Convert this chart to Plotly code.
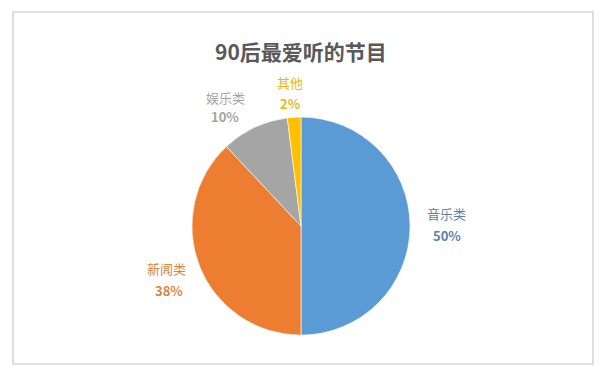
import plotly.graph_objects as go

categories = ["音乐类", "新闻类", "娱乐类", "其他"]
values = [50, 38, 10, 2]
slice_colors = ["#5B9BD5", "#ED7D31", "#A5A5A5", "#FFC000"]
label_colors = ["#5E80A8", "#D9853F", "#A3A3A3", "#E8B90C"]
title_text = "90后最爱听的节目"

W, H = 605, 380
# label centre positions in pixels (name line, percent line)
name_pos = [(446, 213), (166, 268), (225, 97), (290, 82)]
pct_pos = [(447, 235), (169, 290), (225, 117), (290, 103)]

FONT = "Noto Sans CJK SC"

fig = go.Figure()
fig.add_trace(go.Pie(
    labels=categories,
    values=values,
    sort=False,
    direction="clockwise",
    rotation=0,
    marker=dict(colors=slice_colors, line=dict(color="white", width=0.6)),
    textinfo="none",
    hoverinfo="label+percent",
    domain=dict(x=[0.317, 0.678], y=[0.118, 0.692]),
    showlegend=False,
))

total = sum(values)
annotations = []
for cat, v, c, (nx, ny), (px, py) in zip(categories, values, label_colors, name_pos, pct_pos):
    annotations.append(dict(
        x=nx / W, y=1 - ny / H, xref="paper", yref="paper",
        xanchor="center", yanchor="middle",
        text=cat, showarrow=False,
        font=dict(family=FONT, size=13, color=c),
    ))
    annotations.append(dict(
        x=px / W, y=1 - py / H, xref="paper", yref="paper",
        xanchor="center", yanchor="middle",
        text=f"<b>{round(v / total * 100)}%</b>", showarrow=False,
        font=dict(family=FONT, size=13, color=c),
    ))

annotations.append(dict(
    x=0.497, y=1 - 51 / H, xref="paper", yref="paper",
    xanchor="center", yanchor="middle",
    text=f"<b>{title_text}</b>", showarrow=False,
    font=dict(family=FONT, size=21, color="#595959"),
))

fig.update_layout(
    width=W, height=H,
    margin=dict(l=0, r=0, t=0, b=0),
    paper_bgcolor="white",
    plot_bgcolor="white",
    annotations=annotations,
    shapes=[dict(type="rect", xref="paper", yref="paper",
                 x0=13 / W, x1=593 / W, y0=1 - 364 / H, y1=1 - 12 / H,
                 line=dict(color="#C8C8C8", width=1.2), fillcolor="rgba(0,0,0,0)",
                 layer="below")],
)

fig.write_html("out.html", config={"displayModeBar": False},
               post_script="document.body.style.margin='0';document.body.style.overflow='hidden';")
